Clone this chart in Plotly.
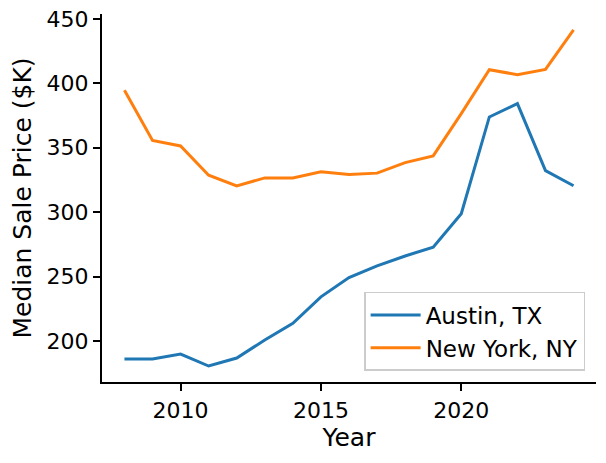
import plotly.graph_objects as go

years = list(range(2008, 2025))
austin = [186.1, 186.1, 189.9, 180.6, 186.8, 200.8, 213.7, 234.3, 249.3,
          258.3, 266.0, 272.8, 298.8, 373.9, 384.3, 332.2, 320.5]
new_york = [394.6, 355.6, 351.4, 328.7, 320.4, 326.6, 326.6, 331.3, 329.3,
            330.3, 338.5, 343.7, 376.5, 410.6, 406.7, 410.8, 441.5]

fnt = "DejaVu Sans"

fig = go.Figure()
fig.add_trace(go.Scatter(x=years, y=austin, mode="lines", name="Austin, TX",
                         line=dict(color="#1f77b4", width=3)))
fig.add_trace(go.Scatter(x=years, y=new_york, mode="lines", name="New York, NY",
                         line=dict(color="#ff7f0e", width=3)))

axis_common = dict(showline=True, linecolor="black", linewidth=2.4, ticks="outside",
                   ticklen=7, tickwidth=2.4, tickcolor="black", showgrid=False,
                   zeroline=False, automargin=False, ticklabeloverflow="allow",
                   tickfont=dict(family=fnt, size=22, color="black"))

fig.update_xaxes(range=[2007.2, 2024.8], tickvals=[2010, 2015, 2020],
                 title=dict(text="Year", font=dict(family=fnt, size=25, color="black"), standoff=4),
                 **axis_common)
fig.update_yaxes(range=[168.2, 453.8], tickvals=[200, 250, 300, 350, 400, 450],
                 title=dict(text="Median Sale Price ($K)", font=dict(family=fnt, size=25, color="black"), standoff=8),
                 **axis_common)

# page body has an 8px margin, so the figure is drawn 8px smaller
fig.update_layout(
    width=598, height=455,
    margin=dict(l=94, r=10, t=6, b=81),
    plot_bgcolor="white", paper_bgcolor="white",
    font=dict(family=fnt, color="black"),
    legend=dict(x=0.978, y=0.03, xanchor="right", yanchor="bottom",
                bgcolor="rgba(255,255,255,0.8)", bordercolor="#cccccc", borderwidth=1.5,
                itemwidth=50, font=dict(family=fnt, size=23, color="black")),
)

fig.write_html("out.html")
